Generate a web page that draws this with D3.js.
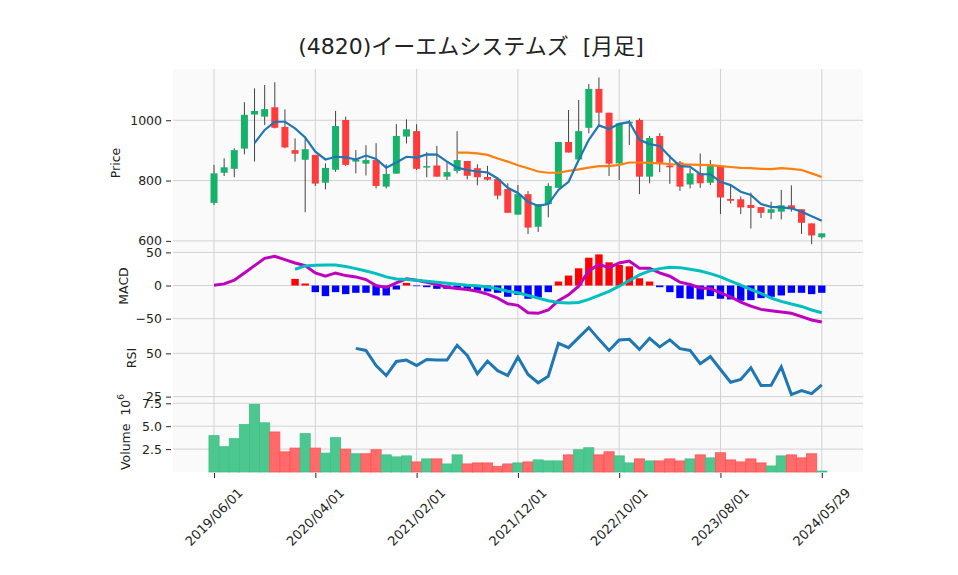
<!DOCTYPE html>
<html>
<head>
<meta charset="utf-8">
<script src="https://cdn.jsdelivr.net/npm/d3@7"></script>
<style>
  body { margin: 0; background: #fff; }
  text { font-family: "DejaVu Sans", "Noto Sans CJK JP", sans-serif; fill: #222; }
</style>
</head>
<body>
<svg id="chart" width="958" height="575"></svg>
<script>
// monthly candles, index 0 = 2019/06
const tickIdx = [0, 10, 20, 30, 40, 50, 60];
const tickLabels = ['2019/06/01', '2020/04/01', '2021/02/01', '2021/12/01', '2022/10/01', '2023/08/01', '2024/05/29'];

const open  = [726,826,839,906,1019,1012,1043,978,901,869,885,793,836,1001,863,856,868,780,823,946,964,843,850,813,832,865,841,812,805,772,687,755,647,722,776,928,870,975,1104,1025,857,990,1001,813,948,850,860,787,824,793,848,739,738,719,712,693,697,718,705,658,612];
const high  = [852,874,907,1060,1106,1117,1126,1036,940,946,885,857,1031,1012,901,917,924,854,987,1003,987,894,915,863,964,865,854,849,805,791,785,765,722,791,928,1034,1067,1120,1142,1025,990,1001,1006,948,957,885,865,841,890,868,848,785,747,760,712,730,769,784,705,658,625];
const low   = [719,815,811,887,863,984,973,907,863,695,782,771,829,848,824,817,774,774,823,923,835,811,813,802,824,804,784,800,738,693,687,623,630,678,776,893,870,957,984,815,802,918,755,791,828,789,766,774,776,785,689,724,689,641,676,672,671,697,623,589,608];
const close = [824,844,901,1018,1031,1037,975,910,889,904,790,842,981,852,870,868,782,822,948,970,839,848,813,828,868,816,811,803,750,693,755,644,722,782,928,893,964,1104,1025,856,990,995,813,941,859,844,780,824,791,848,744,733,711,709,693,705,718,707,660,618,625];
// volume in millions
const volume = [3.97,2.76,3.64,5.18,7.39,5.37,4.37,2.2,2.61,4.19,2.61,2.06,3.75,2.5,1.99,1.99,2.43,1.87,1.65,1.76,1.10,1.43,1.43,0.88,1.87,0.88,0.99,0.99,0.62,0.88,0.99,1.10,1.32,1.21,1.21,1.87,2.43,2.65,1.87,2.21,1.76,0.99,1.43,1.21,1.21,1.43,1.21,1.43,1.87,1.54,2.10,1.32,1.10,1.43,0.99,0.66,1.76,1.87,1.54,1.99,0.11];

const ma5 = [null,null,null,null,924,968,995,995,973,943,896,870,879,877,870,883,872,843,860,879,876,887,886,863,843,835,830,827,807,776,759,730,716,722,769,796,868,935,983,971,988,994,935,921,915,879,848,846,821,821,796,785,763,752,722,713,711,708,697,682,667];
const ma25 = [null,null,null,null,null,null,null,null,null,null,null,null,null,null,null,null,null,null,null,null,null,null,null,null,893,893,890,885,873,863,851,841,830,826,826,832,837,843,848,848,852,860,860,859,857,855,854,853,852,851,848,845,842,841,839,838,841,839,835,824,812];

const macd = [0.5,2.5,8,19,30,41,44,39,34,30,19,14,19,15,13,9,0,-3,4,10,8,5,1.5,-2.5,-4.6,-6,-8.7,-13,-19,-27.5,-30,-41,-42,-37,-23,-14,-1,22,32,27,34,37,26,26,19,14,5,1.5,-3.6,-4.6,-11,-17,-25,-31,-36,-38,-40,-42,-47,-52,-55];
const signal = [null,null,null,null,null,null,null,null,24.5,29.6,30.6,31,31,28.6,25.5,22,18,13,10,9,8,6.6,5,3.6,2,0.5,-0.5,-2.2,-5,-8.7,-11,-15,-19,-23,-25.5,-26.5,-25.5,-21,-15,-8.7,-1,7.6,16,22,25.5,27.5,27,24.5,22,18,13,6.6,0.5,-6,-12,-19,-24,-28,-31.6,-37,-41];
const hist = [null,null,null,null,null,null,null,null,10,3,-10,-16,-10,-13,-11,-11,-15,-15,-6,4,-1,-2.5,-5,-5,-5,-5,-7.6,-9,-11,-17,-14,-20,-18,-10,6,15,26,42,47,35,31,29,11,6,-2.5,-10,-19,-20,-21,-16,-20,-21,-23,-22,-19,-17,-15,-11,-11,-13,-11];

const rsi = [null,null,null,null,null,null,null,null,null,null,null,null,null,null,52.9,51.7,43,37.2,45.3,46.1,43,46.5,46.1,46.1,54.7,48.8,38.2,45.5,40,37.2,47.9,37.8,33,36.8,55.8,53.3,59.1,64.9,58.1,51.7,57.8,58.1,52.3,58.7,53.7,57.8,52.7,51.7,44,48.1,40.7,33.3,34.9,41.7,31.4,31.6,42.2,26.2,28.5,26.7,31.8];

const svg = d3.select('#chart');
const left = 173, right = 863;
const idx = d3.range(close.length);

const x = d3.scaleLinear().domain([-4.05, 64.07]).range([left, right]);
const step = x(1) - x(0);

const panels = [
    {name: 'price', top: 69, bottom: 243, domain: [593, 1170], ticks: [600, 800, 1000], fmt: d => d, label: 'Price'},
    {name: 'macd', top: 243, bottom: 325, domain: [-59.6, 64.2], ticks: [-50, 0, 50], fmt: d => d < 0 ? '\u2212' + Math.abs(d) : d, label: 'MACD'},
    {name: 'rsi', top: 325, bottom: 398, domain: [24.2, 66.4], ticks: [25, 50], fmt: d => d, label: 'RSI'},
    {name: 'vol', top: 398, bottom: 472, domain: [0, 8.08], ticks: [2.5, 5, 7.5], fmt: d3.format('.1f'), label: 'Volume'}
];

const y = {};
panels.forEach(p => {
    y[p.name] = d3.scaleLinear().domain(p.domain).range([p.bottom, p.top]);

    svg.append('rect')
        .attr('x', left).attr('y', p.top)
        .attr('width', right - left).attr('height', p.bottom - p.top)
        .attr('fill', '#fafafa');

    // grid
    let g = svg.append('g');
    g.selectAll('.vg').data(tickIdx).enter().append('line')
        .attr('x1', d => x(d)).attr('x2', d => x(d))
        .attr('y1', p.top).attr('y2', p.bottom)
        .attr('stroke', '#d2d2d2').attr('stroke-width', 1);
    g.selectAll('.hg').data(p.ticks).enter().append('line')
        .attr('x1', left).attr('x2', right)
        .attr('y1', d => y[p.name](d)).attr('y2', d => y[p.name](d))
        .attr('stroke', '#d2d2d2').attr('stroke-width', 1);

    let yAxis = d3.axisLeft(y[p.name]).tickValues(p.ticks).tickFormat(p.fmt).tickSize(5).tickPadding(4);
    let ax = svg.append('g')
        .attr('transform', `translate(${left - 2}, 0)`)
        .call(yAxis);
    ax.select('.domain').remove();
    ax.selectAll('line').attr('stroke', '#222');
    ax.selectAll('text').style('font-size', '12.5px').style('font-family', 'DejaVu Sans').style('fill', '#222');
});

// panel labels
function yLabel(txt, lx, ly) {
    return svg.append('text')
        .attr('transform', `translate(${lx}, ${ly}) rotate(-90)`)
        .attr('text-anchor', 'middle')
        .style('font-size', '12.5px')
        .text(txt);
}
yLabel('Price', 120, 163);
yLabel('MACD', 128, 286);
yLabel('RSI', 136, 358);
let vl = yLabel('Volume  10', 130, 432).style('white-space', 'pre');
vl.append('tspan').attr('dy', '-6').style('font-size', '9px').text('6');

// price candles
const up = '#17b26a', down = '#ff3b3b';
const candles = svg.append('g');
candles.selectAll('.wick').data(idx).enter().append('line')
    .attr('x1', i => x(i)).attr('x2', i => x(i))
    .attr('y1', i => y.price(high[i])).attr('y2', i => y.price(low[i]))
    .attr('stroke', '#444').attr('stroke-width', 1);
candles.selectAll('.body').data(idx).enter().append('rect')
    .attr('x', i => x(i) - 3.5)
    .attr('width', 7)
    .attr('y', i => y.price(Math.max(open[i], close[i])))
    .attr('height', i => Math.max(1, Math.abs(y.price(open[i]) - y.price(close[i]))))
    .attr('fill', i => close[i] >= open[i] ? up : down);

const maLine = arr => d3.line()
    .defined(i => arr[i] != null)
    .x(i => x(i))
    .y(i => y.price(arr[i]));

svg.append('path').datum(idx)
    .attr('d', maLine(ma25))
    .attr('fill', 'none').attr('stroke', '#ff7f0e').attr('stroke-width', 2.2);
svg.append('path').datum(idx)
    .attr('d', maLine(ma5))
    .attr('fill', 'none').attr('stroke', '#1f77b4').attr('stroke-width', 2.2);

// MACD
svg.append('g').selectAll('rect').data(idx.filter(i => hist[i] != null)).enter().append('rect')
    .attr('x', i => x(i) - 3.7)
    .attr('width', 7.4)
    .attr('y', i => y.macd(Math.max(0, hist[i])))
    .attr('height', i => Math.abs(y.macd(hist[i]) - y.macd(0)))
    .attr('fill', i => hist[i] >= 0 ? '#ff0000' : '#0000ff');

svg.append('path').datum(idx)
    .attr('d', d3.line().x(i => x(i)).y(i => y.macd(macd[i])))
    .attr('fill', 'none').attr('stroke', '#bf00bf').attr('stroke-width', 3);
svg.append('path').datum(idx)
    .attr('d', d3.line().defined(i => signal[i] != null).x(i => x(i)).y(i => y.macd(signal[i])))
    .attr('fill', 'none').attr('stroke', '#00bfbf').attr('stroke-width', 3);

// RSI
svg.append('path').datum(idx)
    .attr('d', d3.line().defined(i => rsi[i] != null).x(i => x(i)).y(i => y.rsi(rsi[i])))
    .attr('fill', 'none').attr('stroke', '#1f77b4').attr('stroke-width', 3);

// volume, coloured by close vs previous close
svg.append('g').selectAll('rect').data(idx).enter().append('rect')
    .attr('x', i => x(i) - step / 2)
    .attr('width', step)
    .attr('y', i => y.vol(volume[i]))
    .attr('height', i => y.vol(0) - y.vol(volume[i]))
    .attr('fill', i => (i === 0 || close[i] >= close[i - 1]) ? '#4cc790' : '#ff6b6b')
    .attr('stroke', i => (i === 0 || close[i] >= close[i - 1]) ? '#3fc085' : '#ff5252')
    .attr('stroke-width', 0.8);

// x axis
let xAxis = d3.axisBottom(x).tickValues(tickIdx).tickFormat('').tickSize(5);
let xg = svg.append('g')
    .attr('transform', `translate(0, 473)`)
    .call(xAxis);
xg.select('.domain').remove();
xg.selectAll('line').attr('stroke', '#222');

svg.append('g').selectAll('text').data(tickIdx).enter().append('text')
    .attr('transform', d => `translate(${x(d)}, 517) rotate(-45)`)
    .attr('text-anchor', 'middle')
    .attr('dominant-baseline', 'central')
    .style('font-size', '13px')
    .text((d, i) => tickLabels[i]);

// title
svg.append('text')
    .attr('x', 471).attr('y', 54)
    .attr('text-anchor', 'middle')
    .style('font-size', '22px')
    .style('white-space', 'pre')
    .text('(4820)イーエムシステムズ  [月足]');
</script>
</body>
</html>
